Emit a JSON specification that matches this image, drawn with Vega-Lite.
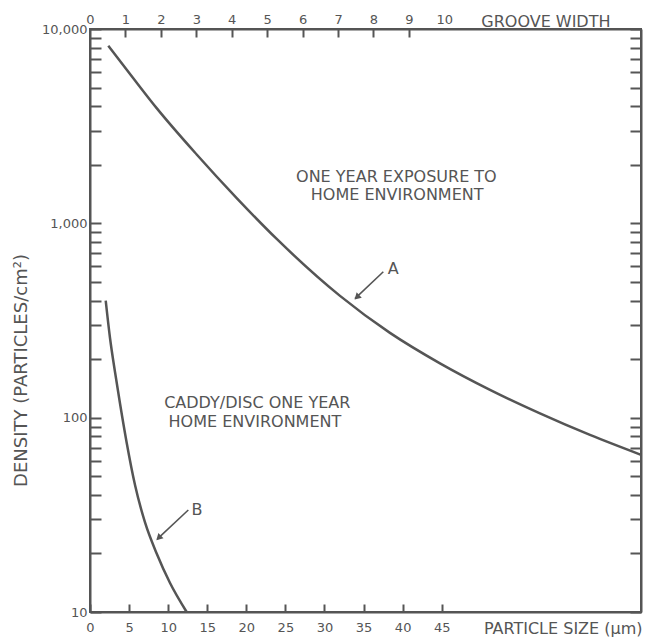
{
  "$schema": "https://vega.github.io/schema/vega-lite/v6.json",
  "width": 551,
  "height": 583,
  "autosize": "none",
  "padding": {"left": 90, "top": 29, "right": 7, "bottom": 30},
  "background": "white",
  "config": {
    "font": "DejaVu Sans",
    "view": {"stroke": "#555", "strokeWidth": 2},
    "axis": {
      "domainColor": "#555", "domainWidth": 2,
      "tickColor": "#555", "tickWidth": 2,
      "labelColor": "#555", "labelFontSize": 13, "labelFont": "DejaVu Sans",
      "titleColor": "#555", "titleFontSize": 16, "titleFontWeight": "normal", "titleFont": "DejaVu Sans",
      "grid": false, "labelFlush": false, "labelOverlap": false
    }
  },
  "datasets": {
    "curves": [
      {"curve": "A", "size": 2.34, "density": 8204},
      {"curve": "A", "size": 5.44, "density": 5649},
      {"curve": "A", "size": 8.53, "density": 3917},
      {"curve": "A", "size": 13.65, "density": 2261},
      {"curve": "A", "size": 18.77, "density": 1349},
      {"curve": "A", "size": 23.89, "density": 831},
      {"curve": "A", "size": 31.99, "density": 423.4},
      {"curve": "A", "size": 38.38, "density": 273},
      {"curve": "A", "size": 44.78, "density": 190.3},
      {"curve": "A", "size": 51.18, "density": 139},
      {"curve": "A", "size": 57.57, "density": 105.2},
      {"curve": "A", "size": 63.97, "density": 81.5},
      {"curve": "A", "size": 70.5, "density": 64.4},
      {"curve": "B", "size": 2.01, "density": 400},
      {"curve": "B", "size": 2.56, "density": 257},
      {"curve": "B", "size": 3.2, "density": 171.8},
      {"curve": "B", "size": 3.84, "density": 118.3},
      {"curve": "B", "size": 4.7, "density": 74.1},
      {"curve": "B", "size": 5.76, "density": 45.0},
      {"curve": "B", "size": 7.04, "density": 28.9},
      {"curve": "B", "size": 8.53, "density": 20.0},
      {"curve": "B", "size": 10.24, "density": 14.1},
      {"curve": "B", "size": 12.37, "density": 10}
    ],
    "notes": [
      {"label": "ONE YEAR EXPOSURE TO", "size": 39.2, "density": 1730},
      {"label": "HOME ENVIRONMENT", "size": 39.3, "density": 1400},
      {"label": "CADDY/DISC ONE YEAR", "size": 21.4, "density": 119},
      {"label": "HOME ENVIRONMENT", "size": 21.1, "density": 95},
      {"label": "A", "size": 38.8, "density": 580},
      {"label": "B", "size": 13.7, "density": 33.5}
    ],
    "arrows": [
      {"arrow": "A", "size": 37.53, "density": 563.7},
      {"arrow": "A", "size": 33.9, "density": 410},
      {"arrow": "B", "size": 12.58, "density": 33.5},
      {"arrow": "B", "size": 8.6, "density": 23.7}
    ],
    "heads": [
      {"arrow": "A", "size": 34.15, "density": 416.8},
      {"arrow": "B", "size": 8.78, "density": 24.06}
    ],
    "frame": [
      {"groove": 0, "density": 10},
      {"groove": 15.55, "density": 10000}
    ]
  },
  "layer": [
    {
      "layer": [
        {
          "data": {"name": "curves"},
          "mark": {"type": "line", "interpolate": "monotone", "color": "#555", "strokeWidth": 2.5},
          "encoding": {
            "x": {
              "field": "size", "type": "quantitative",
              "scale": {"domain": [0, 70.5], "nice": false, "zero": false},
              "axis": {
                "orient": "bottom",
                "values": [0, 5, 10, 15, 20, 25, 30, 35, 40, 45],
                "tickSize": -8,
                "labelPadding": 17,
                "title": "PARTICLE SIZE (μm)",
                "titleFontSize": 16,
                "titleAlign": "right",
                "titleBaseline": "middle",
                "titleX": 552,
                "titleY": 16
              }
            },
            "y": {
              "field": "density", "type": "quantitative",
              "scale": {"type": "log", "domain": [10, 10000], "nice": false},
              "axis": {
                "orient": "left",
                "values": [10, 20, 30, 40, 50, 60, 70, 80, 90, 100, 200, 300, 400, 500, 600, 700, 800, 900, 1000, 2000, 3000, 4000, 5000, 6000, 7000, 8000, 9000, 10000],
                "labelExpr": "indexof([10, 100, 1000, 10000], datum.value) >= 0 ? format(datum.value, ',') : ''",
                "tickSize": -11,
                "labelPadding": 14,
                "labelBaseline": "middle",
                "title": "DENSITY (PARTICLES/cm²)",
                "titleFontSize": 18,
                "titleBaseline": "middle",
                "titleX": -69,
                "titleY": 341
              }
            },
            "detail": {"field": "curve"}
          }
        },
        {
          "data": {"name": "arrows"},
          "mark": {"type": "line", "color": "#555", "strokeWidth": 1.6},
          "encoding": {
            "x": {"field": "size", "type": "quantitative"},
            "y": {"field": "density", "type": "quantitative"},
            "detail": {"field": "arrow"}
          }
        },
        {
          "data": {"name": "heads"},
          "mark": {"type": "point", "shape": "triangle-up", "filled": true, "color": "#555", "opacity": 1, "size": 55, "angle": 226},
          "encoding": {
            "x": {"field": "size", "type": "quantitative"},
            "y": {"field": "density", "type": "quantitative"}
          }
        },
        {
          "data": {"name": "notes"},
          "mark": {"type": "text", "font": "DejaVu Sans", "fontSize": 16, "color": "#555", "align": "center", "baseline": "middle"},
          "encoding": {
            "x": {"field": "size", "type": "quantitative"},
            "y": {"field": "density", "type": "quantitative"},
            "text": {"field": "label"}
          }
        }
      ]
    },
    {
      "data": {"name": "frame"},
      "mark": {"type": "point", "opacity": 0},
      "encoding": {
        "x": {
          "field": "groove", "type": "quantitative",
          "scale": {"domain": [0, 15.55], "nice": false, "zero": false},
          "axis": {
            "orient": "top",
            "values": [0, 1, 2, 3, 4, 5, 6, 7, 8, 9, 10],
            "tickSize": -8,
            "tickOpacity": {"condition": {"test": "datum.value == 10 || datum.value == 0", "value": 0}, "value": 1},
            "labelPadding": 11,
            "title": "GROOVE WIDTH",
            "titleAlign": "right",
            "titleBaseline": "middle",
            "titleX": 520,
            "titleY": -8
          }
        },
        "y": {
          "field": "density", "type": "quantitative",
          "scale": {"type": "log", "domain": [10, 10000], "nice": false},
          "axis": {
            "orient": "right",
            "values": [10, 20, 30, 40, 50, 60, 70, 80, 90, 100, 200, 300, 400, 500, 600, 700, 800, 900, 1000, 2000, 3000, 4000, 5000, 6000, 7000, 8000, 9000, 10000],
            "labels": false,
            "tickSize": -11,
            "title": null
          }
        }
      }
    }
  ],
  "resolve": {"scale": {"x": "independent", "y": "independent"}}
}
